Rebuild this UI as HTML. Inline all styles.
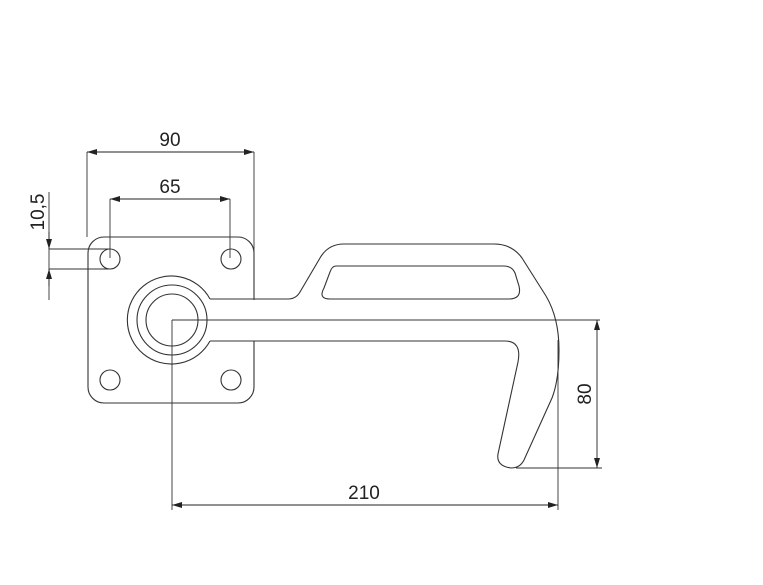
<!DOCTYPE html>
<html><head><style>html,body{margin:0;padding:0;background:#fff}svg{display:block}</style></head>
<body>
<svg width="763" height="585" viewBox="0 0 763 585" xmlns="http://www.w3.org/2000/svg">
<defs>
<marker id="a" viewBox="0 0 10 6" refX="10" refY="3" markerWidth="10" markerHeight="6" orient="auto-start-reverse" markerUnits="userSpaceOnUse"><path d="M0,0L10,3L0,6z" fill="#222"/></marker>
</defs>
<g fill="none" stroke="#333" stroke-width="1.1">
<rect x="88" y="237" width="166" height="166" rx="16" fill="#fff"/>
<circle cx="110" cy="259" r="10"/><circle cx="231" cy="259" r="10"/>
<circle cx="110" cy="380" r="10"/><circle cx="231" cy="380" r="10"/>
<path d="M205,299 L288,299 Q296,299 300,292 L320,258 Q328,244 344,244 L494,244 Q512,244 522,258 L546,296 Q559,318 559,350 Q559,380 552,398 L524,460 Q520,468 511,468 Q496,466 498,454 L518,362 Q522,341 505,341 L205,341" fill="#fff"/>
<path d="M336,266 L504,266 Q512,266 515,273 L519,286 Q522,299 509,299 L330,299 Q318,299 324,288 L330,272 Q332,266 336,266z"/>
<path d="M210,299 A44,44 0 1 0 210,341" fill="#fff"/>
<circle cx="172" cy="320" r="35"/>
<circle cx="172" cy="320" r="26"/>
</g>
<g fill="none" stroke="#333" stroke-width="0.9">
<path d="M172,320 L600,320 M172,320 L172,510 M558,340 L558,510 M516,468 L602,468"/>
<path d="M87,152 L87,237 M254,152 L254,300 M110,199 L110,258 M230,199 L230,258"/>
<path d="M49,192 L49,300 M49,249 L110,249 M49,269 L110,269"/>
</g>
<g stroke="#222" stroke-width="0.9">
<line x1="87" y1="152" x2="254" y2="152" marker-start="url(#a)" marker-end="url(#a)"/>
<line x1="110" y1="199" x2="230" y2="199" marker-start="url(#a)" marker-end="url(#a)"/>
<line x1="172" y1="505" x2="558" y2="505" marker-start="url(#a)" marker-end="url(#a)"/>
<line x1="597" y1="320" x2="597" y2="468" marker-start="url(#a)" marker-end="url(#a)"/>
<line x1="49" y1="232" x2="49" y2="249" marker-end="url(#a)"/>
<line x1="49" y1="286" x2="49" y2="269" marker-end="url(#a)"/>
</g>
<g font-family="Liberation Sans, sans-serif" font-size="19" fill="#222" text-anchor="middle">
<text x="170" y="146">90</text>
<text x="170" y="193">65</text>
<text x="364" y="499">210</text>
<text transform="translate(591,394) rotate(-90)">80</text>
<text transform="translate(44,212) rotate(-90)">10,5</text>
</g>
</svg>
</body></html>
